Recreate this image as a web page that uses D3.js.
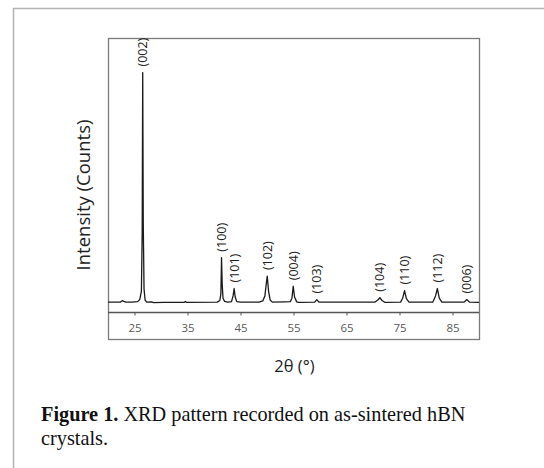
<!DOCTYPE html>
<html>
<head>
<meta charset="utf-8">
<script src="https://cdn.jsdelivr.net/npm/d3@7"></script>
<style>
  body { margin: 0; background: #fff; }
  svg { display: block; }
</style>
</head>
<body>
<div id="chart"></div>
<script>
// XRD profile (2theta in degrees, intensity relative to (002) = 100)
var twoTheta = [20.0, 22.3, 22.7, 23.0, 23.4, 24.5, 25.6, 26.0, 26.3, 26.45, 26.55, 26.65, 26.8, 27.0, 27.3, 28.2, 28.6, 30.5,
    34.4, 34.6, 34.8, 40.6, 41.1, 41.3, 41.42, 41.55, 41.7, 42.0, 42.6, 43.3, 43.6, 43.8, 44.0, 44.3, 45.0,
    48.5, 49.2, 49.6, 49.9, 50.05, 50.3, 50.6, 51.0, 53.3, 54.4, 54.7, 54.95, 55.2, 55.6, 56.0, 59.0, 59.4, 59.8,
    70.4, 70.9, 71.3, 71.7, 72.2, 75.2, 75.6, 75.95, 76.3, 76.8, 81.3, 81.8, 82.15, 82.5, 83.0, 87.2, 87.7, 88.2, 90.0];
var counts = [0.3, 0.3, 0.9, 0.6, 0.3, 0.3, 0.5, 1.5, 5, 30, 100, 35, 6, 1.2, 0.3, 0.4, 0.1, 0.2,
    0.2, 0.6, 0.2, 0.3, 1, 4, 19.6, 8, 2, 0.6, 0.3, 0.5, 3, 6.2, 2.5, 0.5, 0.3,
    0.3, 0.8, 3, 9, 11.6, 5, 1.2, 0.3, 0.4, 0.5, 2, 7.2, 2.5, 0.4, 0.2, 0.3, 1.4, 0.3,
    0.3, 1.2, 2.2, 1, 0.2, 0.3, 2, 5.3, 1.8, 0.3, 0.3, 3, 6.2, 2, 0.3, 0.3, 1.4, 0.3, 0.2];

// indexed reflections
var hkl = ["(002)", "(100)", "(101)", "(102)", "(004)", "(103)", "(104)", "(110)", "(112)", "(006)"];
var peakPos = [26.55, 41.42, 43.8, 50.05, 54.95, 59.4, 71.3, 75.95, 82.15, 87.7];
var peakHeight = [100, 19.6, 6.2, 11.6, 7.2, 1.4, 2.2, 5.3, 6.2, 1.4];

var xTicks = [25, 35, 45, 55, 65, 75, 85];

var width = 544,
    height = 468;

var box = { left: 108, right: 479, top: 38, axis: 312, bottom: 339 };

var svg = d3.select("#chart").append("svg")
    .attr("width", width)
    .attr("height", height);

// figure frame
svg.append("rect")
    .attr("x", 13.5)
    .attr("y", 8.5)
    .attr("width", 540)
    .attr("height", 480)
    .style("fill", "none")
    .style("stroke", "#b3b3b3")
    .style("stroke-width", 1.5);

var x = d3.scaleLinear()
    .domain([20, 90])
    .range([box.left, box.right]);

var y = d3.scaleLinear()
    .domain([-4, 115])
    .range([box.axis, box.top]);

// plot box
svg.append("rect")
    .attr("x", box.left + 0.5)
    .attr("y", box.top + 0.5)
    .attr("width", box.right - box.left)
    .attr("height", box.bottom - box.top)
    .style("fill", "none")
    .style("stroke", "#7a7a7a")
    .style("stroke-width", 1.3);

svg.append("line")
    .attr("x1", box.left)
    .attr("x2", box.right)
    .attr("y1", box.axis + 0.5)
    .attr("y2", box.axis + 0.5)
    .style("stroke", "#555")
    .style("stroke-width", 1.4);

var xAxis = d3.axisBottom(x)
    .tickValues(xTicks)
    .tickSize(3)
    .tickSizeOuter(0)
    .tickPadding(8);

var gx = svg.append("g")
    .attr("transform", "translate(0," + (box.axis + 0.5) + ")")
    .call(xAxis);
gx.select(".domain").remove();
gx.selectAll(".tick line").style("stroke", "#555");
gx.selectAll(".tick text")
    .style("font-family", "'Open Sans', sans-serif")
    .style("font-size", "11.5px")
    .style("fill", "#595959");

// pattern
var line = d3.line()
    .x(function(d, i) { return x(twoTheta[i]); })
    .y(function(d) { return y(d); });

svg.append("path")
    .datum(counts)
    .attr("d", line)
    .style("fill", "none")
    .style("stroke", "#1a1a1a")
    .style("stroke-width", 1.3)
    .style("stroke-linejoin", "round");

// peak labels
svg.append("g").selectAll("text")
    .data(hkl)
    .enter()
    .append("text")
    .attr("transform", function(d, i) {
        return "translate(" + x(peakPos[i]) + "," + (y(peakHeight[i]) - 6) + ") rotate(-90)";
    })
    .attr("dy", "0.36em")
    .style("text-anchor", "start")
    .style("font-family", "'Open Sans', sans-serif")
    .style("font-size", "12.5px")
    .style("fill", "#222")
    .text(function(d) { return d; });

// axis titles
svg.append("text")
    .attr("transform", "translate(83," + 195 + ") rotate(-90)")
    .attr("dy", "0.36em")
    .style("text-anchor", "middle")
    .style("font-family", "'Open Sans', sans-serif")
    .style("font-size", "18.5px")
    .style("fill", "#222")
    .text("Intensity (Counts)");

svg.append("text")
    .attr("x", (box.left + box.right) / 2 + 1)
    .attr("y", 372)
    .style("text-anchor", "middle")
    .style("font-family", "'Open Sans', sans-serif")
    .style("font-size", "16.5px")
    .style("fill", "#222")
    .text("2θ (°)");

// caption
var caption = svg.append("text")
    .attr("x", 41)
    .attr("y", 420.5)
    .style("font-family", "'Liberation Serif', 'Times New Roman', serif")
    .style("font-size", "20.3px")
    .style("fill", "#111");
caption.append("tspan")
    .style("font-weight", "bold")
    .text("Figure 1.");
caption.append("tspan")
    .text(" XRD pattern recorded on as-sintered hBN");

svg.append("text")
    .attr("x", 41)
    .attr("y", 444.5)
    .style("font-family", "'Liberation Serif', 'Times New Roman', serif")
    .style("font-size", "20.3px")
    .style("fill", "#111")
    .text("crystals.");
</script>
</body>
</html>
